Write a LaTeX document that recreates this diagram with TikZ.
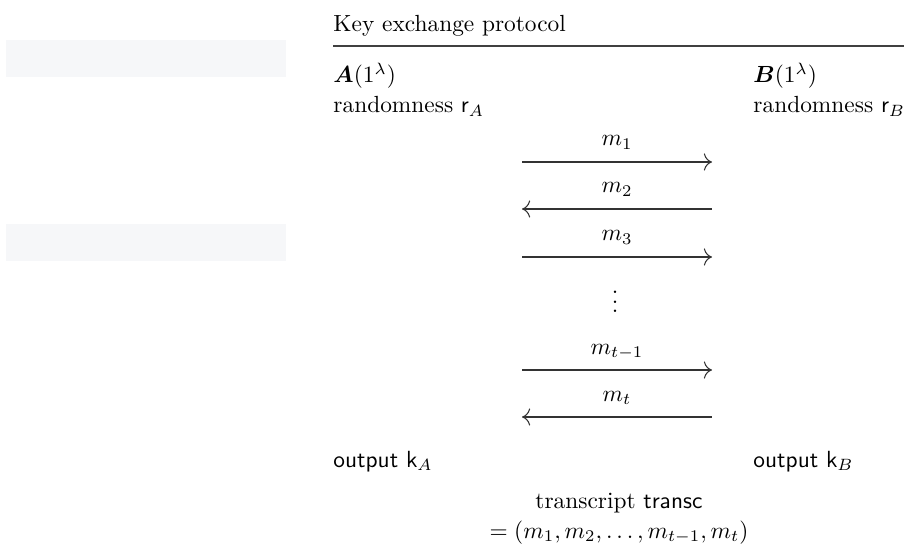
\documentclass[tikz,border=0pt]{standalone}
\usepackage{amsmath,bm}
\usetikzlibrary{arrows.meta}
\definecolor{panelgray}{RGB}{246,247,249}
\tikzset{
  lbl/.style={anchor=base west, inner sep=0pt},
  msg/.style={line width=0.45pt, draw=black!80},
  toB/.style={-{To[length=3.5pt]}},
  toA/.style={{To[length=3.5pt]}-},
}
\begin{document}
\begin{tikzpicture}[x=0.428pt,y=-0.428pt]
  \useasboundingbox (0,0) rectangle (904,546);
  % grey panels on the left
  \fill[panelgray] (6,40) rectangle (286,77);
  \fill[panelgray] (6,224) rectangle (286,261);
  % heading
  \node[lbl] (title) at (333,32) {Key exchange protocol};
  \coordinate (rulel) at (333,46);
  \coordinate (ruler) at (910,46);
  \draw[line width=0.5pt, black!75] (rulel) -- (ruler);
  % parties
  \node[lbl] (A) at (333,83) {$\bm{A}(1^\lambda)$};
  \node[lbl] (B) at (753,83) {$\bm{B}(1^\lambda)$};
  \node[lbl] (rA) at (333,113) {randomness $\mathsf{r}_A$};
  \node[lbl] (rB) at (753,113) {randomness $\mathsf{r}_B$};
  % messages
  \foreach \i/\y/\lab/\d in {1/162/{m_1}/toB, 2/209/{m_2}/toA, 3/257/{m_3}/toB,
                            4/370/{m_{t-1}}/toB, 5/417/{m_t}/toA} {
    \coordinate (l\i) at (522,\y);
    \coordinate (r\i) at (712,\y);
    \node[anchor=base, inner sep=0pt] (m\i) at (617,\y-16) {$\lab$};
    \draw[msg,\d] (l\i) -- (r\i);
  }
  \node (dots) at (615,295) {$\vdots$};
  % outputs
  \node[lbl] (kA) at (333,467) {\textsf{output} $\mathsf{k}_A$};
  \node[lbl] (kB) at (753,467) {\textsf{output} $\mathsf{k}_B$};
  \node[anchor=base, inner sep=0pt] (transc) at (619,508) {transcript $\mathsf{transc}$};
  \node[anchor=base, inner sep=0pt] (eq) at (619,538) {$= (m_1, m_2, \ldots, m_{t-1}, m_t)$};
\end{tikzpicture}
\end{document}
